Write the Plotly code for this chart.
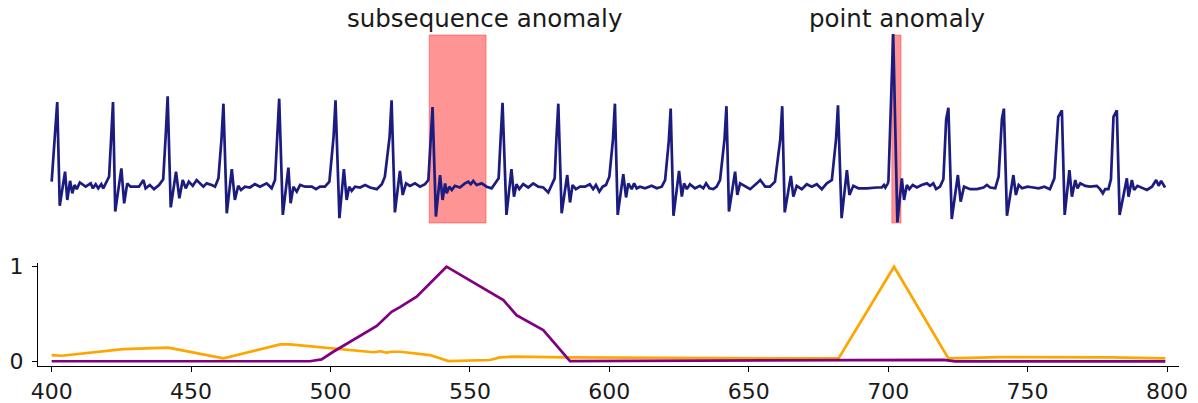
import plotly.graph_objects as go

# ---------------- data ----------------
# ECG-like signal (vertices of the polyline), grouped per beat
ecg_t = [
    400.0, 401.3, 402.0, 402.9, 404.8, 405.6, 406.6, 407.4, 408.2, 409.0, 410.1, 412.2, 414.0, 414.8, 415.8, 416.7, 417.8, 418.5, 419.4, 420.6,
    421.3, 422.0, 422.8, 425.0, 426.0, 427.1, 428.3, 431.3, 432.9, 433.7, 435.2, 436.7, 438.5, 440.0,
    440.9, 441.6, 442.7, 444.6, 445.8, 447.0, 448.1, 449.2, 450.6, 452.0, 454.4, 455.6, 457.4, 458.6, 459.8,
    460.9, 461.6, 462.8, 464.6, 465.7, 466.9, 467.9, 469.3, 471.1, 472.9, 474.7, 477.1, 478.9, 480.1,
    480.9, 481.6, 482.9, 484.9, 485.7, 486.7, 487.9, 489.1, 490.9, 493.3, 494.8, 496.2, 498.0, 499.6,
    501.1, 501.8, 503.2, 504.8, 505.8, 506.7, 507.6, 508.8, 510.6, 512.4, 514.2, 516.6, 518.4, 519.5,
    521.2, 521.9, 523.1, 524.9, 525.9, 527.1, 528.5, 530.3, 532.1, 533.9, 535.1,
    535.8, 536.6, 537.8, 539.3, 540.2, 541.1, 541.7, 542.6, 543.5, 544.6, 546.4, 548.2, 549.4, 550.3, 551.2, 552.4, 554.2, 556.0, 557.8, 559.0, 560.3,
    561.0, 561.7, 563.1, 564.9, 565.8, 566.7, 567.7, 569.1, 570.9, 572.7, 574.5, 576.3, 578.1, 579.3, 580.4,
    581.0, 581.7, 582.9, 584.9, 585.9, 586.8, 588.0, 589.5, 591.3, 593.0, 594.2, 595.2, 596.4, 597.6, 598.8, 600.0,
    601.3, 602.0, 603.0, 605.0, 606.0, 606.8, 608.0, 608.9, 609.8, 611.0, 612.8, 615.2, 617.0, 618.8, 620.0,
    621.3, 622.0, 623.0, 625.0, 626.0, 626.8, 627.8, 628.9, 630.7, 632.5, 633.7, 634.7, 635.9, 637.3, 638.5, 639.7,
    641.3, 642.0, 642.9, 645.1, 645.9, 646.9, 648.7, 650.5, 652.9, 654.1, 655.9, 657.6, 659.4,
    661.3, 662.0, 662.9, 665.1, 666.0, 667.2, 669.0, 670.8, 672.6, 674.4, 676.2, 678.0, 679.8,
    681.3, 682.0, 683.3, 685.2, 686.1, 687.5, 689.3, 692.3, 695.9, 697.7, 698.5, 699.0, 699.9,
    700.1, 701.8, 703.3, 704.9, 705.7, 706.7, 707.6, 708.8, 710.3, 712.0, 713.9, 715.0, 716.2, 717.2, 718.6, 719.8,
    720.8, 721.6, 722.8, 725.0, 726.0, 727.2, 729.4, 731.8, 734.2, 735.4, 736.6, 738.4, 739.6,
    740.8, 741.5, 742.6, 744.9, 745.8, 746.8, 748.0, 750.0, 752.0, 754.0, 756.0, 758.0, 759.6,
    761.0, 762.3, 763.3, 765.0, 765.9, 767.1, 767.9, 768.9, 770.7, 772.4, 774.8, 776.0, 777.0, 777.8, 779.0, 779.9,
    780.8, 782.0, 783.0, 785.6, 786.2, 787.4, 788.2, 789.4, 791.0, 792.8, 794.6, 796.1, 797.0, 797.9, 799.3,
]
ecg_v = [
    0.04, 0.60, 1.00, -0.25, 0.16, -0.18, 0.05, -0.10, 0.00, -0.05, 0.03, -0.02, 0.02, -0.04, 0.01, -0.04, 0.01, -0.04, 0.02, 0.10,
    0.55, 1.00, -0.32, 0.20, -0.22, 0.02, -0.02, -0.02, 0.06, -0.04, 0.00, -0.05, 0.00, 0.07,
    0.60, 1.07, -0.27, 0.16, -0.16, 0.06, -0.04, 0.04, -0.01, 0.06, -0.02, 0.02, 0.00, -0.02, 0.08,
    0.55, 0.98, -0.34, 0.19, -0.18, -0.01, -0.06, -0.02, -0.03, 0.01, -0.02, 0.02, -0.04, 0.06,
    0.60, 1.04, -0.36, 0.21, -0.22, -0.02, -0.08, 0.00, -0.02, -0.02, -0.05, -0.02, -0.02, 0.04,
    0.58, 1.02, -0.40, 0.19, -0.18, -0.02, -0.07, -0.02, -0.03, 0.00, -0.03, -0.05, 0.01, 0.10,
    0.58, 1.02, -0.33, 0.17, -0.12, 0.02, -0.01, 0.02, -0.02, 0.01, 0.06,
    0.50, 0.94, -0.38, 0.12, -0.18, 0.02, -0.10, -0.02, -0.06, -0.01, -0.03, 0.02, 0.04, 0.01, 0.05, 0.00, 0.02, -0.02, -0.04, 0.02, 0.08,
    0.55, 0.99, -0.36, 0.19, -0.14, 0.01, -0.05, 0.01, -0.03, 0.02, -0.02, -0.03, -0.09, 0.01, 0.08,
    0.55, 0.98, -0.34, 0.12, -0.21, 0.00, -0.05, -0.02, -0.02, 0.01, -0.05, 0.00, -0.08, -0.02, 0.00, 0.10,
    0.55, 0.98, -0.36, 0.13, -0.15, 0.02, -0.05, 0.02, -0.04, -0.02, -0.04, -0.01, -0.04, -0.02, 0.06,
    0.52, 0.92, -0.37, 0.17, -0.14, 0.02, -0.05, 0.01, -0.04, -0.01, -0.04, 0.02, -0.04, -0.05, -0.02, 0.06,
    0.55, 0.95, -0.32, 0.16, -0.12, 0.02, -0.02, -0.05, 0.02, 0.06, -0.02, -0.02, 0.04,
    0.55, 0.95, -0.33, 0.11, -0.14, -0.01, -0.05, 0.01, -0.02, 0.01, -0.05, 0.02, 0.06,
    0.55, 0.96, -0.40, 0.18, -0.12, -0.01, -0.04, -0.04, -0.03, -0.03, 0.00, -0.03, 0.02,
    0.05, 1.82, -0.45, 0.08, -0.18, 0.00, -0.05, 0.00, -0.03, 0.00, 0.02, -0.01, 0.02, -0.05, -0.02, 0.07,
    0.79, 0.93, -0.41, 0.12, -0.20, -0.02, -0.05, -0.05, -0.03, 0.00, -0.03, -0.04, 0.10,
    0.80, 0.92, -0.37, 0.12, -0.12, 0.00, -0.04, -0.02, -0.03, -0.04, -0.02, -0.05, 0.08,
    0.82, 0.90, -0.36, 0.18, -0.14, 0.06, -0.04, 0.02, -0.01, -0.02, -0.01, -0.05, -0.10, -0.05, -0.05, 0.07,
    0.82, 0.90, -0.36, 0.08, -0.14, 0.06, -0.06, -0.01, -0.03, -0.06, -0.02, 0.06, -0.01, 0.05, -0.03,
]

# anomaly regions (start, end) on the time axis
subseq_region = [535.4, 555.8]
point_region = [701.3, 704.6]
region_labels = ["subsequence anomaly", "point anomaly"]
label_x = [555.1, 703.2]

# anomaly scores (bottom panel)
orange_t = [400.0, 403.6, 425.7, 441.8, 461.6, 481.9, 485.5, 499.8, 515.4, 518.0, 520.0, 522.0, 525.0,
            535.7, 542.3, 557.2, 560.8, 565.6, 584.7, 668.0, 682.2, 702.1, 721.6, 740.2, 780.0, 799.4]
orange_v = [0.070, 0.063, 0.133, 0.148, 0.035, 0.183, 0.183, 0.140, 0.100, 0.110, 0.095, 0.105, 0.105,
            0.070, 0.007, 0.018, 0.046, 0.053, 0.046, 0.035, 0.035, 1.000, 0.035, 0.048, 0.045, 0.035]

purple_t = [400.0, 492.6, 496.8, 501.0, 516.6, 521.9, 524.9, 530.9, 541.6, 562.0, 566.7, 576.3, 585.9,
            680.0, 720.0, 724.0, 799.4]
purple_v = [0.005, 0.005, 0.025, 0.105, 0.376, 0.526, 0.575, 0.684, 1.000, 0.649, 0.490, 0.333, 0.007,
            0.020, 0.020, 0.003, 0.003]

x_ticks = [400, 450, 500, 550, 600, 650, 700, 750, 800]
y_ticks = [0, 1]

# ---------------- figure ----------------
FONT = "DejaVu Sans"
X_RANGE = [395.1, 804.3]

fig = go.Figure()
fig.add_trace(go.Scatter(x=ecg_t, y=ecg_v, mode="lines", xaxis="x2", yaxis="y2",
                         line=dict(color="#1c1c80", width=2.7), hoverinfo="skip"))
fig.add_trace(go.Scatter(x=orange_t, y=orange_v, mode="lines",
                         line=dict(color="orange", width=2.7)))
fig.add_trace(go.Scatter(x=purple_t, y=purple_v, mode="lines",
                         line=dict(color="purple", width=2.7)))

for (x0, x1) in (subseq_region, point_region):
    fig.add_shape(type="rect", xref="x2", yref="y2", x0=x0, x1=x1, y0=-0.458, y1=1.807,
                  fillcolor="rgba(255,0,0,0.42)", line=dict(color="rgba(255,0,0,0.35)", width=1),
                  layer="below")

# labels placed above the top panel (paper coordinates)
for lx, txt in zip(label_x, region_labels):
    fig.add_annotation(x=lx, y=1.033, xref="x2", yref="paper", text=txt, showarrow=False,
                       xanchor="center", yanchor="middle",
                       font=dict(family=FONT, size=24.5, color="#1a1a1a"))

axis_style = dict(showgrid=False, zeroline=False, showline=True, linecolor="black", linewidth=1.3,
                  ticks="outside", ticklen=5, tickwidth=1.3, tickcolor="black", automargin=False,
                  tickfont=dict(family=FONT, size=22, color="#1a1a1a"))

fig.update_layout(
    width=1198, height=403,
    margin=dict(l=38, r=19, t=30, b=37, autoexpand=False),
    paper_bgcolor="white", plot_bgcolor="white",
    showlegend=False,
    xaxis=dict(domain=[0, 1], range=X_RANGE, anchor="y", tickvals=x_ticks, **axis_style),
    yaxis=dict(domain=[0, 0.3057], range=[-0.045, 1.036], anchor="x", tickvals=y_ticks,
               ticklabelstandoff=4, **axis_style),
    xaxis2=dict(domain=[0, 1], range=X_RANGE, anchor="y2", visible=False),
    yaxis2=dict(domain=[0.4107, 1.0], range=[-0.518, 1.8675], anchor="x2", visible=False),
)

# remove the default page margin so the figure fills the window exactly; hide the mode bar
fig.write_html("out.html", config={"displayModeBar": False},
               post_script="document.body.style.margin='0';")
